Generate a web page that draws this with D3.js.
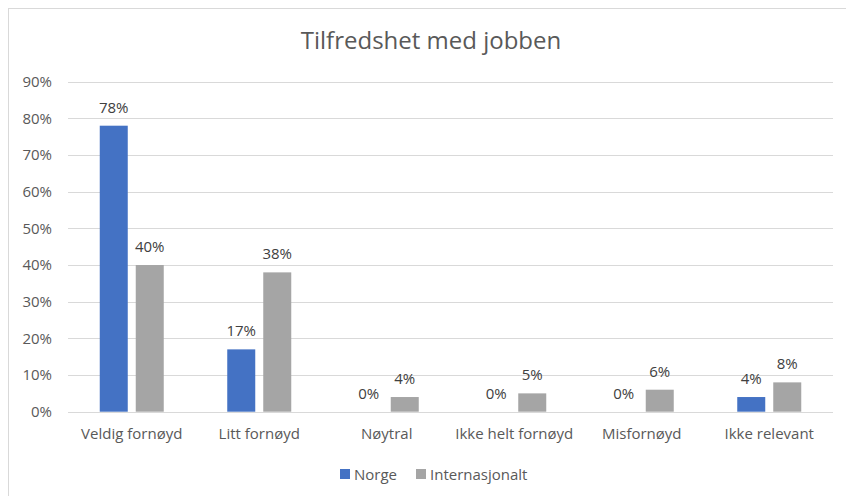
<!DOCTYPE html>
<html>
<head>
<meta charset="utf-8">
<script src="https://cdn.jsdelivr.net/npm/d3@7"></script>
<style>
	body { margin: 0; background: #ffffff; }
	svg { display: block; font-family: "Open Sans", Lato, sans-serif; }
</style>
</head>
<body>
<svg id="chart" width="846" height="496"></svg>
<script>
'use strict';

var arrayCategories = ['Veldig fornøyd', 'Litt fornøyd', 'Nøytral', 'Ikke helt fornøyd', 'Misfornøyd', 'Ikke relevant'];
var arrayNorge = [78, 17, 0, 0, 0, 4];
var arrayInternasjonalt = [40, 38, 4, 5, 6, 8];
var arraySeriesNames = ['Norge', 'Internasjonalt'];
var arraySeriesColors = ['#4472C4', '#A5A5A5'];
var arrayTicks = [0, 10, 20, 30, 40, 50, 60, 70, 80, 90];

var strFont = '"Open Sans", Lato, sans-serif';
var svg = d3.select('#chart');

// outer chart frame
svg.append('rect')
	.attr('x', 8.5).attr('y', 8.5)
	.attr('width', 850).attr('height', 500)
	.attr('fill', 'none')
	.attr('stroke', '#D9D9D9');

var nLeft = 68, nRight = 833, nTop = 81.7, nBottom = 411.7;

var xScale = d3.scaleBand()
	.domain(arrayCategories)
	.range([nLeft, nRight]);

var yScale = d3.scaleLinear()
	.domain([0, 90])
	.range([nBottom, nTop]);

var nBarWidth = 28;
var nBarGap = 8;

// gridlines
svg.append('g')
	.selectAll('line')
	.data(arrayTicks)
	.enter()
	.append('line')
	.attr('x1', nLeft).attr('x2', nRight)
	.attr('y1', function(d) { return Math.round(yScale(d)) + 0.5; })
	.attr('y2', function(d) { return Math.round(yScale(d)) + 0.5; })
	.attr('stroke', '#D9D9D9')
	.attr('stroke-width', 1);

// y axis labels
var yAxis = d3.axisLeft(yScale)
	.tickValues(arrayTicks)
	.tickFormat(function(d) { return d + '%'; })
	.tickSize(0)
	.tickPadding(0);

var gY = svg.append('g')
	.attr('transform', 'translate(52,0)')
	.call(yAxis);
gY.select('.domain').remove();
gY.selectAll('text')
	.attr('fill', '#595959')
	.style('font-size', '15px')
	.style('font-family', strFont);

// x axis labels
var xAxis = d3.axisBottom(xScale).tickSize(0).tickPadding(0);
var gX = svg.append('g')
	.attr('transform', 'translate(0,' + 428 + ')')
	.call(xAxis);
gX.select('.domain').remove();
gX.selectAll('text')
	.attr('fill', '#595959')
	.style('font-size', '15px')
	.style('font-family', strFont);

var arraySeries = [arrayNorge, arrayInternasjonalt];

arraySeries.forEach(function(arrayValues, s) {
	var nOffset = s == 0 ? -(nBarGap / 2 + nBarWidth) : nBarGap / 2;
	var g = svg.append('g');

	g.selectAll('rect')
		.data(arrayValues)
		.enter()
		.append('rect')
		.attr('x', function(d, i) { return xScale(arrayCategories[i]) + xScale.bandwidth() / 2 + nOffset; })
		.attr('y', function(d) { return yScale(d); })
		.attr('width', nBarWidth)
		.attr('height', function(d) { return nBottom - yScale(d); })
		.attr('fill', arraySeriesColors[s]);

	g.selectAll('text')
		.data(arrayValues)
		.enter()
		.append('text')
		.text(function(d) { return d + '%'; })
		.attr('x', function(d, i) { return xScale(arrayCategories[i]) + xScale.bandwidth() / 2 + nOffset + nBarWidth / 2; })
		.attr('y', function(d) { return yScale(d) - 13; })
		.attr('text-anchor', 'middle')
		.attr('fill', '#404040')
		.style('font-size', '15px');
});

// title
svg.append('text')
	.text('Tilfredshet med jobben')
	.attr('x', 431)
	.attr('y', 49)
	.attr('text-anchor', 'middle')
	.attr('fill', '#595959')
	.style('font-size', '24px');

// legend
var arrayLegendX = [340, 416];
arraySeriesNames.forEach(function(strName, s) {
	svg.append('rect')
		.attr('x', arrayLegendX[s]).attr('y', 469)
		.attr('width', 10).attr('height', 10)
		.attr('fill', arraySeriesColors[s]);
	svg.append('text')
		.text(strName)
		.attr('x', arrayLegendX[s] + 14)
		.attr('y', 479.5)
		.attr('fill', '#595959')
		.style('font-size', '15px');
});
</script>
</body>
</html>
